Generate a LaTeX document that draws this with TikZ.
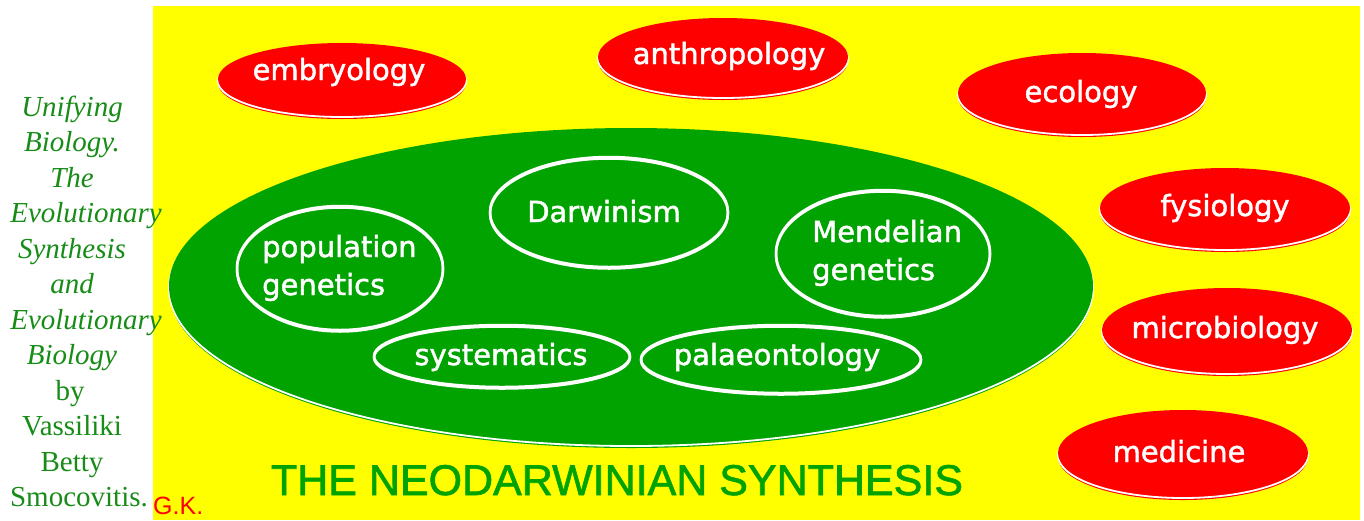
\documentclass[tikz,border=0pt]{standalone}
\usepackage{fontspec}
\setmainfont{Liberation Serif}
\newfontfamily\ovalfont[FakeBold=1.6]{DejaVu Sans}
\newfontfamily\titlefont[FakeBold=1.5]{Liberation Sans}
\newfontfamily\initfont{Liberation Sans}
\usetikzlibrary{positioning}

\definecolor{bgyellow}{HTML}{FFFF00}
\definecolor{ovalred}{HTML}{FF0000}
\definecolor{synthgreen}{HTML}{00A300}
\definecolor{sidegreen}{HTML}{178C17}

\begin{document}
\begin{tikzpicture}[x=1pt, y=-1pt,
    ovaltext/.style={text=white, inner sep=0pt, anchor=base,
                     font=\ovalfont\fontsize{29}{38}\selectfont},
    innerring/.style={draw=white, line width=2.5pt},
    sidetext/.style={text=sidegreen, inner sep=0pt, anchor=base,
                     font=\fontsize{29}{35}\selectfont}]

% page and yellow field
\useasboundingbox (0,0) rectangle (1364,520);
\fill[white] (0,0) rectangle (1364,520);
\fill[bgyellow] (153,6) rectangle (1360,520);

% red ovals round the synthesis
\foreach \cx/\cy/\rx/\ry in {342/79/124/36, 723/57/125/39, 1082/93/124/40,
                             1225/208/125/40, 1227/330/125/42, 1183/453/125/43} {
  \fill[ovalred] (\cx,\cy+4) ellipse [x radius=\rx pt, y radius=\ry pt];
  \draw[white, line width=1.8pt] (\cx,\cy+2) ellipse [x radius=\rx pt, y radius=\ry pt];
  \fill[ovalred] (\cx,\cy) ellipse [x radius=\rx pt, y radius=\ry pt];
}

\node[ovaltext] (embryology) at (339,80) {embryology};
\node[ovaltext] (anthropology) at (729,64) {anthropology};
\node[ovaltext] (ecology) at (1081,102) {ecology};
\node[ovaltext] (fysiology) at (1225,216) {fysiology};
\node[ovaltext] (microbiology) at (1225,338) {microbiology};
\node[ovaltext] (medicine) at (1179,462) {medicine};

% big green oval
\fill[synthgreen] (631,290) ellipse [x radius=462pt, y radius=158pt];
\draw[white, line width=1.8pt] (631,288) ellipse [x radius=462pt, y radius=158pt];
\fill[synthgreen] (631,286) ellipse [x radius=462pt, y radius=158pt];

% white rings inside
\foreach \cx/\cy/\rx/\ry in {609/212/119/55, 340/268/103/62, 883/253/107/63,
                             502/356/128/31, 781/359/140/34} {
  \draw[innerring] (\cx,\cy) ellipse [x radius=\rx pt, y radius=\ry pt];
  \draw[innerring] (\cx,\cy+1.5) ellipse [x radius=\rx pt, y radius=\ry pt];
}

\node[ovaltext] (darwinism) at (604,222) {Darwinism};
\node[ovaltext, anchor=base west, align=left] (popgen) at (262,295) {population\\genetics};
\node[ovaltext, anchor=base west, align=left] (mendel) at (812,280) {Mendelian\\genetics};
\node[ovaltext] (systematics) at (501,365) {systematics};
\node[ovaltext] (palaeontology) at (777,365) {palaeontology};

% title and initials
\node[text=synthgreen, inner sep=0pt, anchor=base,
      font=\titlefont\fontsize{43}{50}\selectfont] (title) at (617,495)
      {THE NEODARWINIAN SYNTHESIS};
\node[text=ovalred, inner sep=0pt, anchor=base west,
      font=\initfont\fontsize{25}{28}\selectfont] (gk) at (153,514) {G.K.};

% book reference on the left
\foreach \txt/\xc/\n in {Unifying/72/0, Biology./72/1, The/72/2, Evolutionary/86/3,
                         Synthesis/72/4, and/72/5, Evolutionary/86/6, Biology/72/7}
  \node[sidetext, font=\itshape\fontsize{29}{35}\selectfont] (side-\n) at (\xc,116+35.5*\n) {\txt};
\foreach \txt/\xc/\n in {by/70/8, Vassiliki/72/9, Betty/72/10, Smocovitis./79/11}
  \node[sidetext] (side-\n) at (\xc,116+35.5*\n) {\txt};

\end{tikzpicture}
\end{document}
